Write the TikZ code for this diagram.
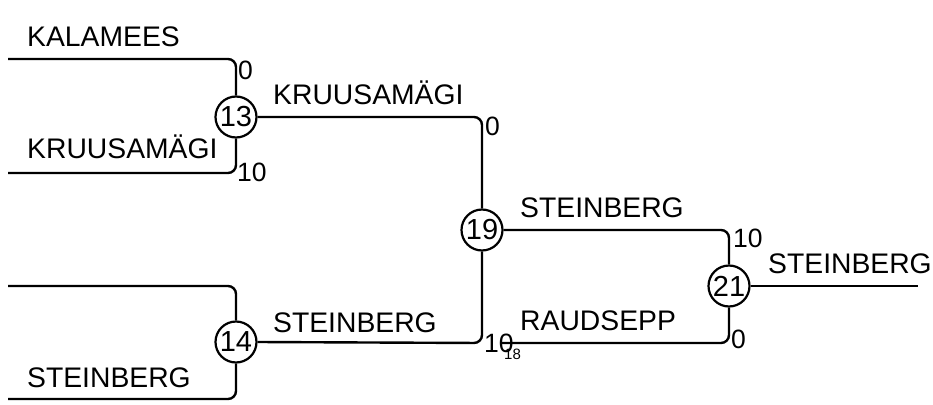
\documentclass[tikz,border=0pt]{standalone}
\usepackage{fontspec}
\setmainfont{Liberation Sans}
\begin{document}
\begin{tikzpicture}[x=1pt,y=-1pt,
  wire/.style={line width=2.4pt,rounded corners=8pt},
  matchnode/.style={circle,draw,line width=2.2pt,minimum size=41pt,inner sep=0pt,font=\fontsize{29}{29}\selectfont},
  playername/.style={anchor=base west,inner sep=0pt,font=\fontsize{28.3}{28}\selectfont},
  scorelabel/.style={anchor=base west,inner sep=0pt,font=\fontsize{26.5}{26}\selectfont},
  smalllabel/.style={anchor=base west,inner sep=0pt,font=\fontsize{15}{15}\selectfont}]
\useasboundingbox (0,0) rectangle (933,404);
% match nodes
\node[matchnode] (m13) at (236,117) {13};
\node[matchnode] (m14) at (236,342) {14};
\node[matchnode] (m19) at (482,230) {19};
\node[matchnode] (m21) at (729,286) {21};
% free ends
\coordinate (a1) at (8,59);
\coordinate (a2) at (8,173);
\coordinate (b1) at (8,286);
\coordinate (b2) at (8,399);
\coordinate (c2) at (502,343);
\coordinate (out) at (918,286);
% connectors
\draw[wire] (a1) -- (236,59) -- (m13.north);
\draw[wire] (a2) -- (236,173) -- (m13.south);
\draw[wire] (b1) -- (236,286) -- (m14.north);
\draw[wire] (b2) -- (236,399) -- (m14.south);
\draw[wire] (m13.east) -- (482,117) -- (m19.north);
\draw[wire] (m14.east) -- (482,343) -- (m19.south);
\draw[wire] (m19.east) -- (729,230) -- (m21.north);
\draw[wire] (c2) -- (729,343) -- (m21.south);
\draw[wire] (m21.east) -- (out);
% names
\node[playername] (n1) at (27,47) {KALAMEES};
\node[playername] (n2) at (27,158) {KRUUSAMÄGI};
\node[playername] (n3) at (27,387) {STEINBERG};
\node[playername] (n4) at (273,104) {KRUUSAMÄGI};
\node[playername] (n5) at (273,332) {STEINBERG};
\node[playername] (n6) at (520,217) {STEINBERG};
\node[playername] (n7) at (520,330) {RAUDSEPP};
\node[playername] (n8) at (768,273) {STEINBERG};
% scores
\node[scorelabel] (s1) at (238,79) {0};
\node[scorelabel] (s2) at (237,181) {10};
\node[scorelabel] (s3) at (485,135) {0};
\node[scorelabel] (s4) at (484,352) {10};
\node[scorelabel] (s5) at (733,247) {10};
\node[scorelabel] (s6) at (731,348) {0};
\node[smalllabel] (s7) at (504,359) {18};
\end{tikzpicture}
\end{document}
